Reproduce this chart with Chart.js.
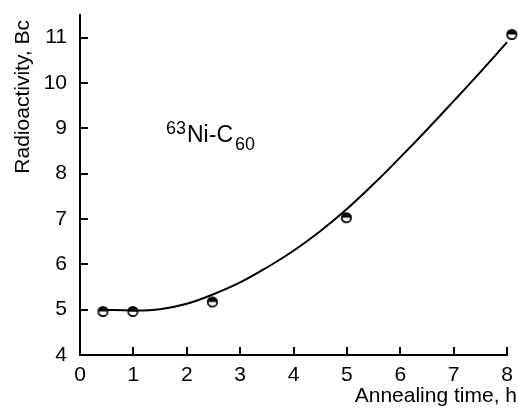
<!DOCTYPE html>
<html>
<head>
<meta charset="utf-8">
<script src="https://cdn.jsdelivr.net/npm/chart.js@4/dist/chart.umd.min.js"></script>
<style>
    html, body { margin: 0; padding: 0; background: #fff; }
    #wrap { width: 518px; height: 408px; }
</style>
</head>
<body>
<div id="wrap"><canvas id="annealChart" width="518" height="408"></canvas></div>
<script>
// measured points (annealing time, h / radioactivity, Bc)
const timeH = [0.43, 0.99, 2.48, 4.99, 8.09];
const activity = [4.96, 4.96, 5.17, 7.03, 11.07];

// fitted curve
const curveX = [0.43, 1, 1.5, 2, 2.5, 3, 3.5, 4, 4.5, 5, 5.5, 6, 6.5, 7, 7.5, 8, 8.09];
const curveY = [5.0, 4.98, 5.01, 5.13, 5.34, 5.6, 5.93, 6.3, 6.73, 7.22, 7.77, 8.36, 8.97, 9.6, 10.24, 10.9, 11.05];

const xTicks = [0, 1, 2, 3, 4, 5, 6, 7, 8];
const yTicks = [4, 5, 6, 7, 8, 9, 10, 11];

const FONT = '"Liberation Sans", Arial, sans-serif';

// half filled circle marker
const makeMarker = () => {
    const c = document.createElement('canvas');
    c.width = 13; c.height = 13;
    const g = c.getContext('2d');
    g.beginPath();
    g.arc(6.5, 6.5, 4.7, Math.PI, 0);
    g.closePath();
    g.fillStyle = '#000';
    g.fill();
    g.beginPath();
    g.arc(6.5, 6.5, 4.7, 0, Math.PI * 2);
    g.lineWidth = 1.7;
    g.strokeStyle = '#000';
    g.stroke();
    return c;
};

const inwardTicks = {
    id: 'inwardTicks',
    afterDraw(chart) {
        const { ctx, chartArea, scales } = chart;
        ctx.save();
        ctx.strokeStyle = '#000';
        ctx.lineWidth = 2;
        ctx.beginPath();
        xTicks.slice(1).forEach(v => {
            const px = Math.round(scales.x.getPixelForValue(v));
            ctx.moveTo(px, chartArea.bottom);
            ctx.lineTo(px, chartArea.bottom - 8);
        });
        yTicks.slice(1).forEach(v => {
            const py = Math.round(scales.y.getPixelForValue(v));
            ctx.moveTo(chartArea.left, py);
            ctx.lineTo(chartArea.left + 8, py);
        });
        ctx.stroke();

        ctx.fillStyle = '#000';
        // axis titles
        ctx.font = '21px ' + FONT;
        ctx.textAlign = 'right';
        ctx.textBaseline = 'alphabetic';
        ctx.fillText('Annealing time, h', 517, 402);

        ctx.save();
        ctx.translate(29, 20);
        ctx.rotate(-Math.PI / 2);
        ctx.textAlign = 'right';
        ctx.fillText('Radioactivity, Bc', 0, 0);
        ctx.restore();

        // sample label 63Ni-C60
        ctx.textAlign = 'left';
        ctx.font = '18px ' + FONT;
        ctx.fillText('63', 166, 134);
        ctx.font = '23px ' + FONT;
        ctx.fillText('Ni-C', 187, 142);
        const w = ctx.measureText('Ni-C').width;
        ctx.font = '18px ' + FONT;
        ctx.fillText('60', 187 + w + 2, 150);
        ctx.restore();
    }
};

new Chart(document.getElementById('annealChart'), {
    type: 'scatter',
    data: {
        datasets: [{
            data: curveX.map((x, i) => ({ x, y: curveY[i] })),
            showLine: true,
            borderColor: '#000',
            borderWidth: 2,
            pointRadius: 0,
            tension: 0.4,
            clip: false
        }, {
            data: timeH.map((x, i) => ({ x, y: activity[i] })),
            pointStyle: makeMarker(),
            pointRadius: 5,
            clip: false
        }]
    },
    options: {
        responsive: false,
        animation: false,
        events: [],
        layout: { padding: { top: 15, right: 11, left: 0, bottom: 0 } },
        plugins: { legend: { display: false }, tooltip: { enabled: false } },
        scales: {
            x: {
                min: 0, max: 8,
                afterBuildTicks: s => { s.ticks = xTicks.map(v => ({ value: v })); },
                afterFit: s => { s.height = 53; s.paddingLeft = 0; s.paddingRight = 0; },
                grid: { display: false, drawTicks: false },
                border: { color: '#000', width: 2 },
                ticks: { color: '#000', padding: 8, maxRotation: 0, font: { family: FONT, size: 21 } }
            },
            y: {
                min: 4, max: 11.5,
                afterBuildTicks: s => { s.ticks = yTicks.map(v => ({ value: v })); },
                afterFit: s => { s.width = 80; s.paddingTop = 0; s.paddingBottom = 0; },
                grid: { display: false, drawTicks: false },
                border: { color: '#000', width: 2 },
                ticks: { color: '#000', padding: 13, font: { family: FONT, size: 21 } }
            }
        }
    },
    plugins: [inwardTicks]
});
</script>
</body>
</html>
